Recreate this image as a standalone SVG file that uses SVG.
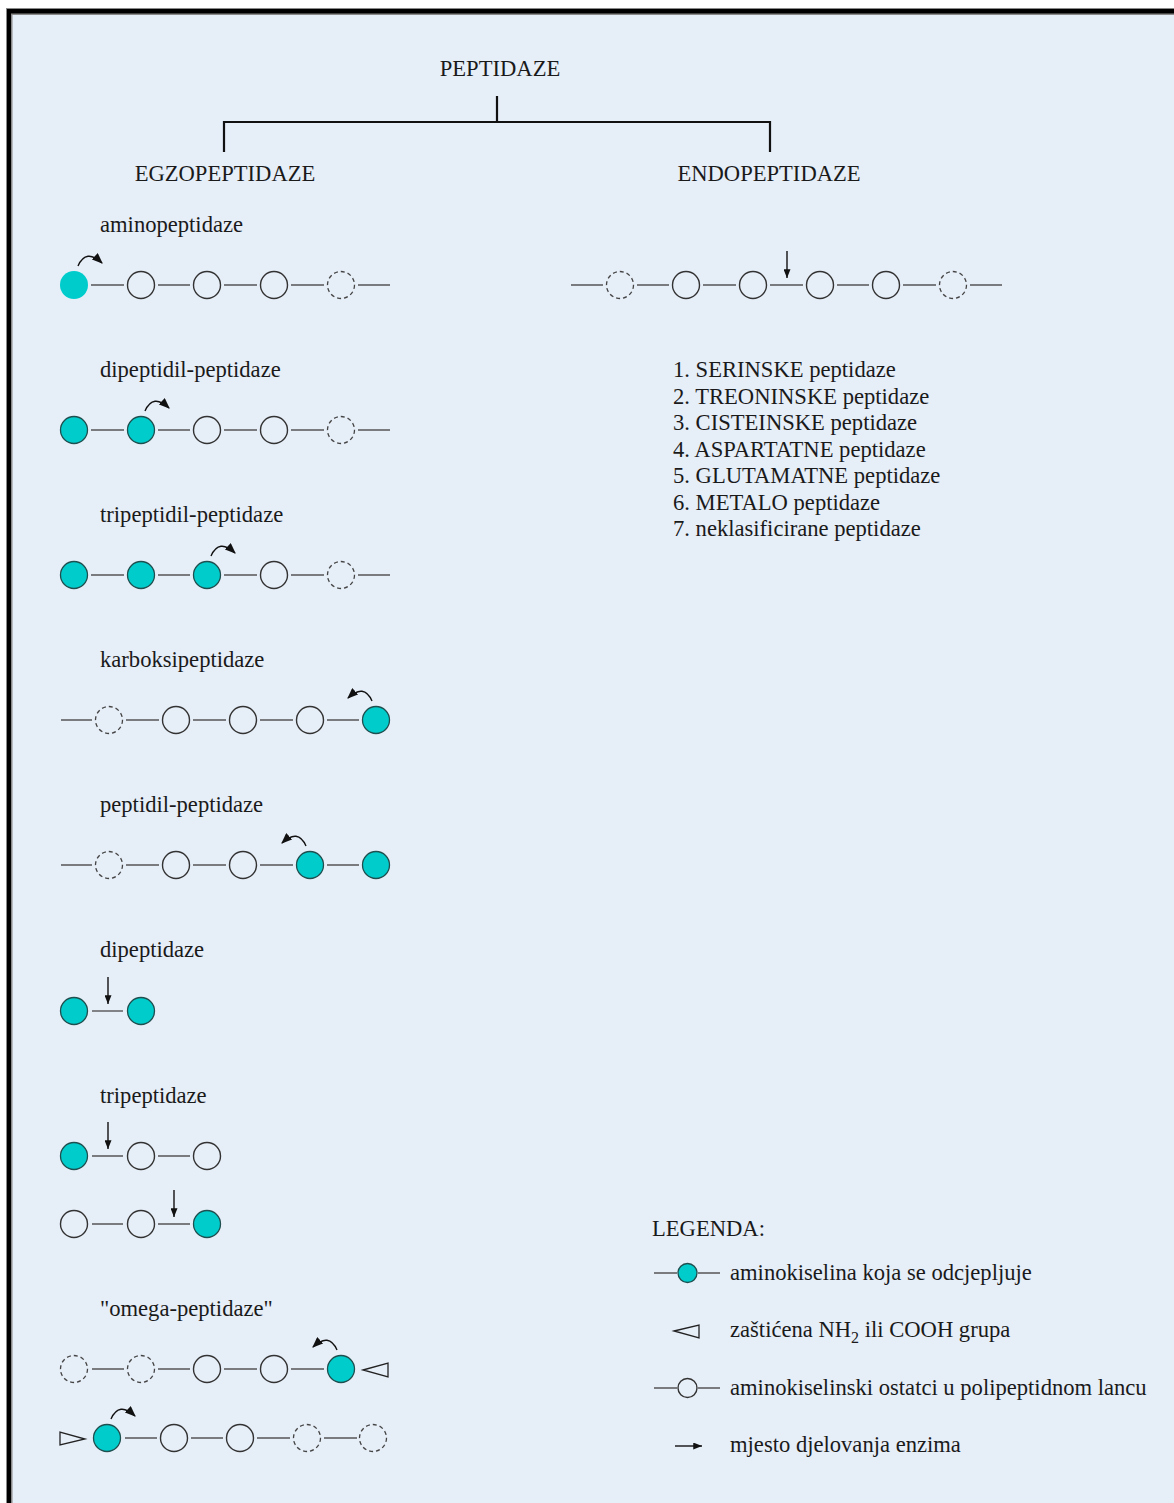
<svg xmlns="http://www.w3.org/2000/svg" width="1174" height="1503" viewBox="0 0 1174 1503">
<defs>
<style>
text{font-family:"Liberation Serif","Times New Roman",serif;font-size:22.6px;fill:#1a1a1a}
.b{stroke:#555;stroke-width:1.4;fill:none}
.c{fill:none;stroke:#333;stroke-width:1.4}
.d{fill:none;stroke:#444;stroke-width:1.3;stroke-dasharray:4 3}
.t{fill:#00cccc;stroke:#1f4f4f;stroke-width:1.3}
.tree{stroke:#111;stroke-width:2.2;fill:none}
.arr{stroke:#111;stroke-width:1.4;fill:none;marker-end:url(#ah)}
.carr{stroke:#111;stroke-width:1.4;fill:none;marker-end:url(#ch)}
.tri{fill:none;stroke:#222;stroke-width:1.3}
</style>
<marker id="ah" viewBox="0 0 10 8" refX="10" refY="4" markerWidth="10" markerHeight="7" markerUnits="userSpaceOnUse" orient="auto"><path d="M0,0 L10,4 L0,8 z" fill="#111"/></marker>
<marker id="ch" viewBox="0 0 10 8" refX="9" refY="4" markerWidth="11" markerHeight="9" markerUnits="userSpaceOnUse" orient="auto"><path d="M0,0 L10,4 L0,8 z" fill="#111"/></marker>
</defs>
<rect x="0" y="0" width="1174" height="1503" fill="#ffffff"/>
<rect x="6" y="8" width="1200" height="1600" fill="#8a8a8a"/>
<rect x="7" y="9" width="1200" height="1600" fill="#000"/>
<rect x="11" y="13.5" width="1200" height="1600" fill="#8a8a8a"/>
<rect x="12.5" y="15" width="1200" height="1600" fill="#e6eef8"/>

<g id="title">
<text x="500" y="76" text-anchor="middle">PEPTIDAZE</text>
</g>
<g id="tree-connectors">
<path class="tree" d="M497,96 V122 M224,122 H771 M224,121 V152 M770,121 V152"/>
</g>
<g id="egzo-title"><text x="225" y="181" text-anchor="middle">EGZOPEPTIDAZE</text></g>
<g id="endo-title"><text x="769" y="181" text-anchor="middle">ENDOPEPTIDAZE</text></g>

<g id="aminopeptidaze">
<text x="100" y="232">aminopeptidaze</text>
<path class="b" d="M91,285 H124 M158,285 H190 M224,285 H257 M291,285 H324 M358,285 H390"/>
<circle class="t" cx="74" cy="285" r="14" style="stroke:none"/>
<circle class="c" cx="141" cy="285" r="13.5"/>
<circle class="c" cx="207" cy="285" r="13.5"/>
<circle class="c" cx="274" cy="285" r="13.5"/>
<circle class="d" cx="341" cy="285" r="13.5"/>
<path class="carr" d="M78,266 Q86,248 102,263"/>
</g>

<g id="dipeptidil-peptidaze">
<text x="100" y="377">dipeptidil-peptidaze</text>
<path class="b" d="M91,430 H124 M158,430 H190 M224,430 H257 M291,430 H324 M358,430 H390"/>
<circle class="t" cx="74" cy="430" r="13.5"/>
<circle class="t" cx="141" cy="430" r="13.5"/>
<circle class="c" cx="207" cy="430" r="13.5"/>
<circle class="c" cx="274" cy="430" r="13.5"/>
<circle class="d" cx="341" cy="430" r="13.5"/>
<path class="carr" d="M145,411 Q153,393 169,408"/>
</g>

<g id="tripeptidil-peptidaze">
<text x="100" y="522">tripeptidil-peptidaze</text>
<path class="b" d="M91,575 H124 M158,575 H190 M224,575 H257 M291,575 H324 M358,575 H390"/>
<circle class="t" cx="74" cy="575" r="13.5"/>
<circle class="t" cx="141" cy="575" r="13.5"/>
<circle class="t" cx="207" cy="575" r="13.5"/>
<circle class="c" cx="274" cy="575" r="13.5"/>
<circle class="d" cx="341" cy="575" r="13.5"/>
<path class="carr" d="M211,556 Q219,538 235,553"/>
</g>

<g id="karboksipeptidaze">
<text x="100" y="667">karboksipeptidaze</text>
<path class="b" d="M61,720 H92 M126,720 H159 M193,720 H226 M260,720 H293 M327,720 H359"/>
<circle class="d" cx="109" cy="720" r="13.5"/>
<circle class="c" cx="176" cy="720" r="13.5"/>
<circle class="c" cx="243" cy="720" r="13.5"/>
<circle class="c" cx="310" cy="720" r="13.5"/>
<circle class="t" cx="376" cy="720" r="13.5"/>
<path class="carr" d="M372,701 Q364,683 348,698"/>
</g>

<g id="peptidil-peptidaze">
<text x="100" y="812">peptidil-peptidaze</text>
<path class="b" d="M61,865 H92 M126,865 H159 M193,865 H226 M260,865 H293 M327,865 H359"/>
<circle class="d" cx="109" cy="865" r="13.5"/>
<circle class="c" cx="176" cy="865" r="13.5"/>
<circle class="c" cx="243" cy="865" r="13.5"/>
<circle class="t" cx="310" cy="865" r="13.5"/>
<circle class="t" cx="376" cy="865" r="13.5"/>
<path class="carr" d="M306,846 Q298,828 282,843"/>
</g>

<g id="dipeptidaze">
<text x="100" y="957">dipeptidaze</text>
<path class="b" d="M92,1011 H123"/>
<circle class="t" cx="74" cy="1011" r="13.5"/>
<circle class="t" cx="141" cy="1011" r="13.5"/>
<path class="arr" d="M108,977 V1004"/>
</g>

<g id="tripeptidaze">
<text x="100" y="1103">tripeptidaze</text>
<path class="b" d="M92,1156 H123 M158,1156 H190"/>
<circle class="t" cx="74" cy="1156" r="13.5"/>
<circle class="c" cx="141" cy="1156" r="13.5"/>
<circle class="c" cx="207" cy="1156" r="13.5"/>
<path class="arr" d="M108,1122 V1149"/>
<path class="b" d="M92,1224 H123 M158,1224 H190"/>
<circle class="c" cx="74" cy="1224" r="13.5"/>
<circle class="c" cx="141" cy="1224" r="13.5"/>
<circle class="t" cx="207" cy="1224" r="13.5"/>
<path class="arr" d="M174,1190 V1217"/>
</g>

<g id="omega-peptidaze">
<text x="100" y="1316">"omega-peptidaze"</text>
<path class="b" d="M92,1369 H124 M158,1369 H190 M224,1369 H257 M291,1369 H324"/>
<circle class="d" cx="74" cy="1369" r="13.5"/>
<circle class="d" cx="141" cy="1369" r="13.5"/>
<circle class="c" cx="207" cy="1369" r="13.5"/>
<circle class="c" cx="274" cy="1369" r="13.5"/>
<circle class="t" cx="341" cy="1369" r="13.5"/>
<polygon class="tri" points="363,1370 388,1363 388,1377"/>
<path class="carr" d="M337,1350 Q329,1332 313,1347"/>
<polygon class="tri" points="60,1432 60,1445 85,1439"/>
<path class="b" d="M125,1438 H157 M191,1438 H223 M257,1438 H290 M324,1438 H357"/>
<circle class="t" cx="107" cy="1438" r="13.5"/>
<circle class="c" cx="174" cy="1438" r="13.5"/>
<circle class="c" cx="240" cy="1438" r="13.5"/>
<circle class="d" cx="307" cy="1438" r="13.5"/>
<circle class="d" cx="373" cy="1438" r="13.5"/>
<path class="carr" d="M111,1419 Q119,1401 135,1416"/>
</g>

<g id="endopeptidaze-chain">
<path class="b" d="M571,285 H603 M637,285 H669 M703,285 H736 M770,285 H803 M837,285 H869 M903,285 H936 M970,285 H1002"/>
<circle class="d" cx="620" cy="285" r="13.5"/>
<circle class="c" cx="686" cy="285" r="13.5"/>
<circle class="c" cx="753" cy="285" r="13.5"/>
<circle class="c" cx="820" cy="285" r="13.5"/>
<circle class="c" cx="886" cy="285" r="13.5"/>
<circle class="d" cx="953" cy="285" r="13.5"/>
<path class="arr" d="M787,251 V278"/>
</g>

<g id="endo-list">
<text x="673" y="377">1. SERINSKE peptidaze</text>
<text x="673" y="403.5">2. TREONINSKE peptidaze</text>
<text x="673" y="430">3. CISTEINSKE peptidaze</text>
<text x="673" y="456.5">4. ASPARTATNE peptidaze</text>
<text x="673" y="483">5. GLUTAMATNE peptidaze</text>
<text x="673" y="509.5">6. METALO peptidaze</text>
<text x="673" y="536">7. neklasificirane peptidaze</text>
</g>

<g id="legend">
<text x="652" y="1236">LEGENDA:</text>
<path class="b" d="M654,1273 H677 M698,1273 H720"/>
<circle class="t" cx="687.5" cy="1273" r="9.5"/>
<text x="730" y="1280">aminokiselina koja se odcjepljuje</text>
<polygon class="tri" points="674,1331 699,1325 699,1338"/>
<text x="730" y="1337">zaštićena NH<tspan font-size="16" dy="6">2</tspan><tspan dy="-6"> ili COOH grupa</tspan></text>
<path class="b" d="M654,1388 H677 M698,1388 H720"/>
<circle class="c" cx="687.5" cy="1388" r="9.5"/>
<text x="730" y="1395">aminokiselinski ostatci u polipeptidnom lancu</text>
<path class="arr" d="M675,1446 H702"/>
<text x="730" y="1452">mjesto djelovanja enzima</text>
</g>
</svg>
